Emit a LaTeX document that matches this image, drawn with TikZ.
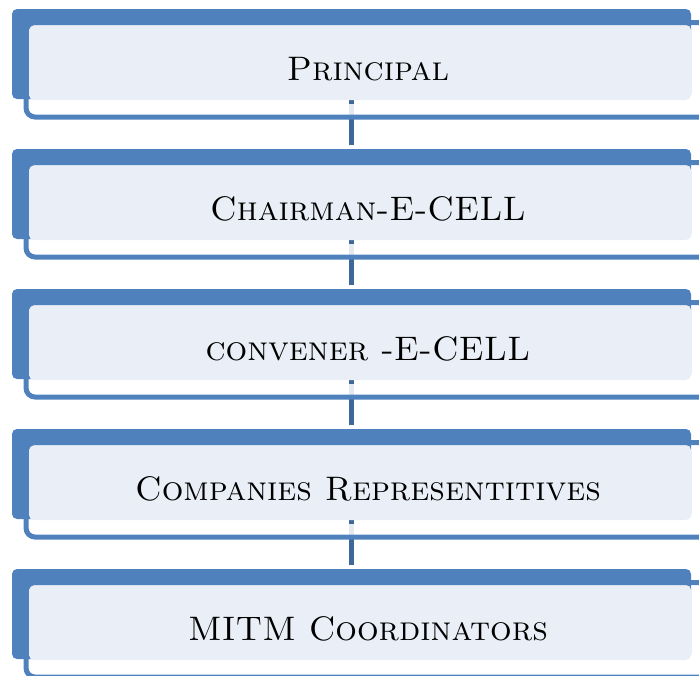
\documentclass[tikz,border=0pt]{standalone}
\usepackage{xcolor}
\usepackage{tikz}

\definecolor{boxblue}{HTML}{4F81BD}
\definecolor{boxlight}{HTML}{EAEFF7}
\definecolor{linkblue}{HTML}{3D6899}
\definecolor{linkfade}{HTML}{E4E9F0}

\pgfdeclarelayer{background}
\pgfsetlayers{background,main}

\tikzset{
    backbox/.style={fill=boxblue, rounded corners=5pt, inner sep=0pt,
        minimum width=679pt, minimum height=90pt},
    frontbox/.style={fill=boxlight, rounded corners=5pt, inner sep=0pt,
        minimum width=662pt, minimum height=75pt},
    framebox/.style={draw=boxblue, line width=5pt, rounded corners=9pt, inner sep=0pt,
        minimum width=684pt, minimum height=94.5pt,
        text height=20.5pt, text depth=0pt, font=\fontsize{34}{36}\selectfont\scshape},
    link/.style={draw=linkblue, line width=5pt, shorten >=4pt},
    linkfade/.style={draw=linkfade, line width=5pt, shorten <=5pt},
}

\begin{document}
\begin{tikzpicture}[x=1pt, y=-1pt]
        \useasboundingbox (0,0) rectangle (699,675);
        \clip (0,0) rectangle (699,675);

        % the five levels
        \foreach \i/\name in {0/Principal, 1/Chairman-E-CELL, 2/convener -E-CELL,
                3/Companies Representitives, 4/MITM Coordinators} {
            \node[backbox] (back\i) at (351.5, 140*\i+54) {};
            \node[frontbox] (front\i) at (360, 140*\i+62.5) {};
            \node[framebox] (frame\i) at (368, 140*\i+69.75) {\name};
        }

        % links between the levels
        \begin{pgfonlayer}{background}
            \foreach \i in {0,...,3} {
                \pgfmathtruncatemacro{\j}{\i+1}
                \draw[link] (back\i.south) -- (back\j.north);
                \draw[linkfade] (back\i.south) -- ++(0,16);
            }
        \end{pgfonlayer}
    \end{tikzpicture}
\end{document}
